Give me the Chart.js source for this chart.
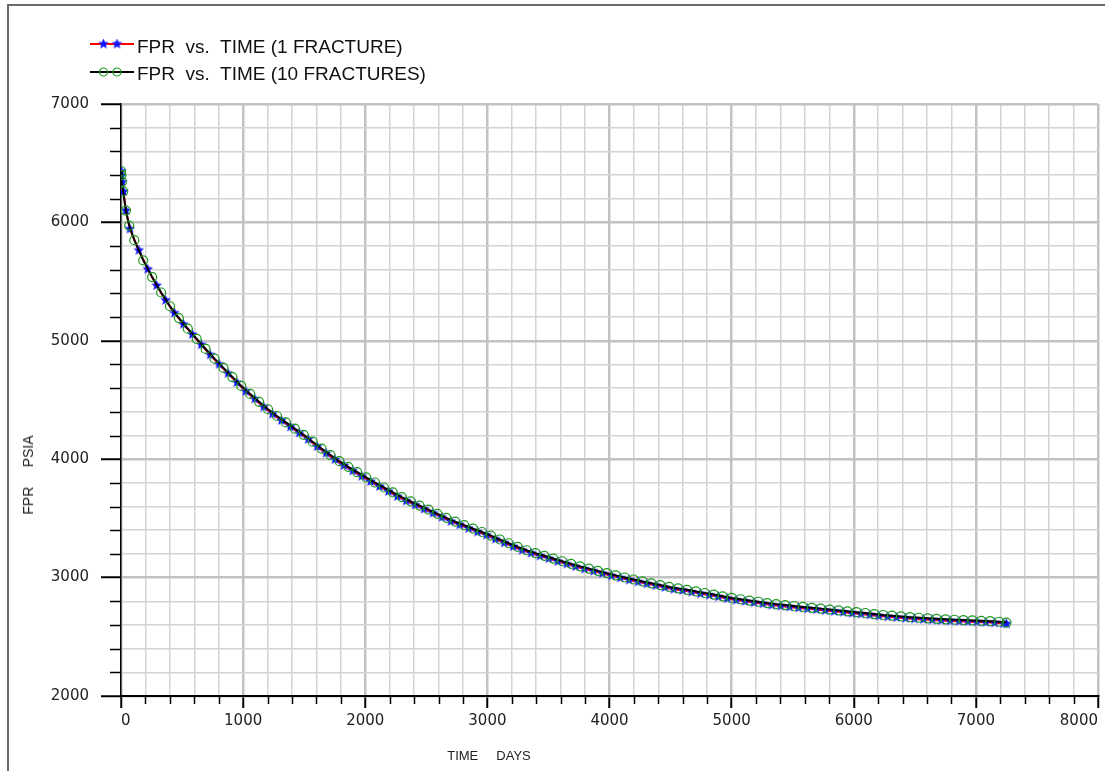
<!DOCTYPE html>
<html>
<head>
<meta charset="utf-8">
<script src="https://cdn.jsdelivr.net/npm/chart.js@4.4.0/dist/chart.umd.min.js"></script>
<style>
    html, body { margin: 0; padding: 0; background: #fff; overflow: hidden; }
    #wrap { position: relative; width: 1105px; height: 771px; overflow: hidden; }
    #frame { position: absolute; left: 7px; top: 4px; width: 1200px; height: 900px;
             border-left: 2px solid #6a6a6a; border-top: 2px solid #6a6a6a; }
    #chart { position: absolute; left: 0; top: 0; }
    .legend-text { position: absolute; left: 137px; height: 22px; line-height: 22px;
                   font: 19px "Liberation Sans", Arial, sans-serif; color: #111; white-space: pre; }
    .legend-sample { position: absolute; left: 88px; }
    .axis-title { position: absolute; font: 13px "Liberation Sans", Arial, sans-serif; color: #222;
                  white-space: pre; transform: translate(-50%, -50%); }
    #yTitle { font-size: 14px; transform: translate(-50%, -50%) rotate(-90deg); }
</style>
</head>
<body>
<div id="wrap">
    <div id="frame"></div>
    <canvas id="chart" width="1105" height="771"></canvas>
    <div id="legend"></div>
    <div id="yTitle" class="axis-title" style="left:28px; top:475px;">FPR     PSIA</div>
    <div id="xTitle" class="axis-title" style="left:489px; top:755px;">TIME     DAYS</div>
</div>
<script>
// FPR vs. TIME (1 FRACTURE)
const daysOne = [0, 4, 10, 20, 40, 73, 146, 219, 292, 365, 438, 511, 584, 657, 730, 803, 876, 949, 1022, 1095,
    1168, 1241, 1314, 1387, 1460, 1533, 1606, 1679, 1752, 1825, 1898, 1971, 2044, 2117, 2190, 2263, 2336, 2409,
    2482, 2555, 2628, 2701, 2774, 2847, 2920, 2993, 3066, 3139, 3212, 3285, 3358, 3431, 3504, 3577, 3650, 3723,
    3796, 3869, 3942, 4015, 4088, 4161, 4234, 4307, 4380, 4453, 4526, 4599, 4672, 4745, 4818, 4891, 4964, 5037,
    5110, 5183, 5256, 5329, 5402, 5475, 5548, 5621, 5694, 5767, 5840, 5913, 5986, 6059, 6132, 6205, 6278, 6351,
    6424, 6497, 6570, 6643, 6716, 6789, 6862, 6935, 7008, 7081, 7154, 7227, 7250];
const fprOne = [6434, 6395, 6340, 6262, 6100,
    5945, 5765, 5605, 5467, 5343, 5235, 5140, 5054, 4967, 4882,
    4802, 4725, 4648, 4574, 4509, 4442, 4382, 4328, 4274, 4222,
    4168, 4107, 4051, 3997, 3947, 3902, 3856, 3812, 3770, 3729,
    3686, 3648, 3614, 3579, 3545, 3510, 3475, 3446, 3416, 3386,
    3360, 3326, 3294, 3263, 3232, 3207, 3183, 3161, 3137, 3115,
    3093, 3073, 3055, 3036, 3016, 2998, 2980, 2964, 2948, 2933,
    2917, 2902, 2892, 2878, 2864, 2852, 2838, 2823, 2810, 2800,
    2789, 2779, 2768, 2760, 2752, 2744, 2737, 2730, 2722, 2715,
    2708, 2699, 2693, 2685, 2676, 2669, 2663, 2657, 2651, 2647,
    2642, 2638, 2634, 2631, 2628, 2625, 2622, 2618, 2613,
    2610];

// FPR vs. TIME (10 FRACTURES)
const daysTen = [0, 3, 8, 18, 40, 67, 109, 182, 255, 328, 401, 474, 547, 620, 693, 766, 839, 912, 985, 1058,
    1131, 1204, 1277, 1350, 1423, 1496, 1569, 1642, 1715, 1788, 1861, 1934, 2007, 2080, 2153, 2226, 2299, 2372,
    2445, 2518, 2591, 2664, 2737, 2810, 2883, 2956, 3029, 3102, 3175, 3248, 3321, 3394, 3467, 3540, 3613, 3686,
    3759, 3832, 3905, 3978, 4051, 4124, 4197, 4270, 4343, 4416, 4489, 4562, 4635, 4708, 4781, 4854, 4927, 5000,
    5073, 5146, 5219, 5292, 5365, 5438, 5511, 5584, 5657, 5730, 5803, 5876, 5949, 6022, 6095, 6168, 6241, 6314,
    6387, 6460, 6533, 6606, 6679, 6752, 6825, 6898, 6971, 7044, 7117, 7190, 7250];
const fprTen = [6434, 6400, 6345, 6262, 6100, 5973,
    5850, 5680, 5538, 5408, 5292, 5192, 5102, 5016, 4931, 4849,
    4771, 4694, 4619, 4551, 4485, 4422, 4365, 4311, 4258, 4206,
    4148, 4090, 4035, 3983, 3936, 3890, 3846, 3803, 3761, 3719,
    3679, 3643, 3608, 3574, 3539, 3504, 3472, 3443, 3413, 3385,
    3355, 3322, 3290, 3259, 3231, 3207, 3184, 3161, 3138, 3116,
    3095, 3076, 3057, 3038, 3019, 3001, 2984, 2968, 2952, 2937,
    2921, 2909, 2897, 2883, 2870, 2857, 2842, 2828, 2817, 2806,
    2796, 2785, 2776, 2768, 2760, 2752, 2745, 2738, 2730, 2723,
    2715, 2708, 2701, 2692, 2684, 2678, 2672, 2666, 2661, 2656,
    2652, 2648, 2644, 2641, 2638, 2635, 2632, 2627,
    2620];

const seriesLabels = ['FPR  vs.  TIME (1 FRACTURE)', 'FPR  vs.  TIME (10 FRACTURES)'];
const xTickLabels = [0, 1000, 2000, 3000, 4000, 5000, 6000, 7000, 8000];
const yTickLabels = [2000, 3000, 4000, 5000, 6000, 7000];

const toPoints = (days, vals) => days.map((d, i) => ({ x: d, y: vals[i] }));

// filled blue star used as marker for the 1 fracture run
const makeStar = (size, color) => {
    const c = document.createElement('canvas');
    c.width = size; c.height = size;
    const g = c.getContext('2d');
    const cx = size / 2, cy = size / 2, ro = size / 2, ri = size / 4.2;
    g.beginPath();
    for (let i = 0; i < 10; i++) {
        const r = i % 2 === 0 ? ro : ri;
        const a = -Math.PI / 2 + i * Math.PI / 5;
        g.lineTo(cx + r * Math.cos(a), cy + r * Math.sin(a));
    }
    g.closePath();
    g.fillStyle = color;
    g.fill();
    return c;
};
const starImg = makeStar(11, '#1414ff');

const isMajor = (v) => v % 1000 === 0;

// short black ticks for the minor steps (major ones come from the grid options)
const minorTicks = {
    id: 'minorTicks',
    afterDraw(chart) {
        const { ctx, chartArea, scales } = chart;
        ctx.save();
        ctx.strokeStyle = '#000';
        ctx.lineWidth = 1.5;
        ctx.beginPath();
        scales.y.ticks.forEach((t) => {
            if (isMajor(t.value)) return;
            const y = Math.round(scales.y.getPixelForValue(t.value)) + 0.5;
            ctx.moveTo(chartArea.left - 11, y);
            ctx.lineTo(chartArea.left, y);
        });
        scales.x.ticks.forEach((t) => {
            if (isMajor(t.value)) return;
            const x = Math.round(scales.x.getPixelForValue(t.value)) + 0.5;
            ctx.moveTo(x, chartArea.bottom);
            ctx.lineTo(x, chartArea.bottom + 8);
        });
        ctx.stroke();
        ctx.restore();
    }
};

const gridOpts = (tickLen) => ({
    color: (c) => (isMajor(c.tick.value) ? '#c2c2c2' : '#d4d4d4'),
    lineWidth: (c) => (isMajor(c.tick.value) ? 2.5 : 1.5),
    tickColor: (c) => (isMajor(c.tick.value) ? '#000' : 'rgba(0,0,0,0)'),
    tickWidth: 2,
    tickLength: tickLen,
});

const ctx = document.getElementById('chart').getContext('2d');
const chart = new Chart(ctx, {
    type: 'line',
    data: {
        datasets: [
            {
                label: seriesLabels[0],
                data: toPoints(daysOne, fprOne),
                borderColor: '#ff0000',
                borderWidth: 2,
                pointStyle: starImg,
                pointRadius: 5,
                order: 1,
            },
            {
                label: seriesLabels[1],
                data: toPoints(daysTen, fprTen),
                borderColor: '#000000',
                borderWidth: 2,
                pointStyle: 'circle',
                pointRadius: 4.5,
                pointBorderColor: '#1f9a1f',
                pointBorderWidth: 1.2,
                pointBackgroundColor: 'rgba(0,0,0,0)',
                order: 0,
            },
        ],
    },
    options: {
        responsive: false,
        animation: false,
        layout: { padding: { top: 104, left: 0, right: 1, bottom: 0 } },
        elements: { line: { tension: 0 } },
        plugins: { legend: { display: false }, tooltip: { enabled: false } },
        scales: {
            x: {
                type: 'linear',
                min: 0,
                max: 8000,
                afterFit: (s) => { s.height = 75; },
                border: { color: '#000', width: 2 },
                grid: gridOpts(12),
                ticks: {
                    stepSize: 200,
                    autoSkip: false,
                    maxRotation: 0,
                    align: 'inner',
                    padding: 4,
                    color: '#222',
                    font: { family: 'DejaVu Sans', size: 15 },
                    callback: (v) => (xTickLabels.includes(v) ? String(v) : ''),
                },
            },
            y: {
                min: 2000,
                max: 7000,
                afterFit: (s) => { s.width = 121; },
                border: { color: '#000', width: 1.5 },
                grid: gridOpts(20),
                ticks: {
                    stepSize: 200,
                    autoSkip: false,
                    padding: 12,
                    color: '#222',
                    font: { family: 'DejaVu Sans', size: 15 },
                    callback: (v) => (yTickLabels.includes(v) ? String(v) : ''),
                },
            },
        },
    },
    plugins: [minorTicks],
});

// legend built from the chart's datasets, two rows top-left
const legendBox = document.getElementById('legend');
chart.data.datasets.forEach((ds, i) => {
    const lineY = 44 + 27.5 * i;
    const sample = document.createElement('canvas');
    sample.width = 48; sample.height = 14;
    sample.className = 'legend-sample';
    sample.style.top = (lineY - 7) + 'px';
    const g = sample.getContext('2d');
    g.strokeStyle = ds.borderColor;
    g.lineWidth = 2;
    g.beginPath(); g.moveTo(2, 7); g.lineTo(46, 7); g.stroke();
    [15.5, 29].forEach((mx) => {
        if (i === 0) {
            g.drawImage(starImg, mx - 5.5, 1.5);
        } else {
            g.strokeStyle = ds.pointBorderColor;
            g.lineWidth = 1.2;
            g.beginPath(); g.arc(mx, 7, 4, 0, Math.PI * 2); g.stroke();
        }
    });
    legendBox.appendChild(sample);

    const txt = document.createElement('div');
    txt.className = 'legend-text';
    txt.style.top = (47 + 27 * i - 11) + 'px';
    txt.textContent = ds.label;
    legendBox.appendChild(txt);
});
</script>
</body>
</html>
